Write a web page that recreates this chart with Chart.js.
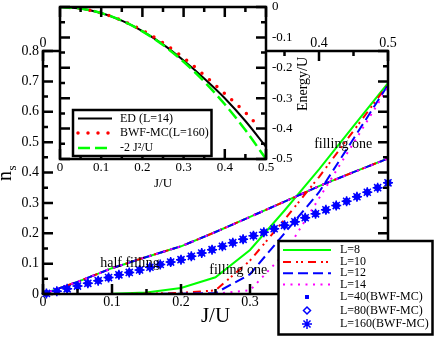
<!DOCTYPE html>
<html><head><meta charset="utf-8">
<script src="https://cdn.jsdelivr.net/npm/chart.js@4/dist/chart.umd.min.js"></script>
<style>
html,body{margin:0;padding:0;background:#fff;}
#wrap{position:relative;width:436px;height:337px;overflow:hidden;}
#wrap canvas{position:absolute;left:0;top:0;}
</style></head><body>
<div id="wrap"><canvas id="main" width="436" height="337"></canvas><canvas id="inset" width="436" height="337"></canvas></div>
<script>
// ---------------- main plot data (n_s vs J/U) ----------------
const jGrid   = [0, 0.05, 0.1, 0.15, 0.2, 0.25, 0.3, 0.35, 0.4, 0.45, 0.5];
const halfL8  = [0, 0.040, 0.085, 0.122, 0.157, 0.204, 0.254, 0.304, 0.355, 0.401, 0.446];
const halfL10 = [0, 0.040, 0.085, 0.122, 0.157, 0.204, 0.254, 0.304, 0.355, 0.401, 0.446];
const halfL12 = [0, 0.040, 0.085, 0.122, 0.157, 0.204, 0.254, 0.304, 0.355, 0.401, 0.446];
const halfL14 = [0, 0.040, 0.085, 0.122, 0.157, 0.204, 0.254, 0.304, 0.355, 0.401, 0.446];
const oneL8   = [0, 0, 0.001, 0.005, 0.020, 0.055, 0.145, 0.275, 0.410, 0.553, 0.694];
const oneL10  = [0, 0, 0, 0.001, 0.004, 0.012, 0.110, 0.245, 0.385, 0.537, 0.690];
const oneL12  = [0, 0, 0, 0, 0.001, 0.003, 0.065, 0.200, 0.335, 0.511, 0.688];
const oneL14  = [0, 0, 0, 0, 0, 0.001, 0.012, 0.133, 0.315, 0.497, 0.680];

const jMC   = [0.005,0.02,0.035,0.05,0.065,0.08,0.095,0.11,0.125,0.14,0.155,0.17,0.185,0.2,0.215,0.23,0.245,0.26,0.275,0.29,0.305,0.32,0.335,0.35,0.365,0.38,0.395,0.41,0.425,0.44,0.455,0.47,0.485,0.5];
const nL40  = [0.002,0.009,0.017,0.026,0.035,0.044,0.054,0.063,0.071,0.079,0.088,0.097,0.105,0.113,0.124,0.135,0.146,0.157,0.169,0.180,0.192,0.203,0.215,0.226,0.238,0.251,0.264,0.277,0.291,0.305,0.320,0.335,0.350,0.366];
const nL80  = [0.002,0.009,0.017,0.026,0.035,0.044,0.054,0.063,0.071,0.079,0.088,0.097,0.105,0.113,0.124,0.135,0.146,0.157,0.169,0.180,0.192,0.203,0.215,0.226,0.238,0.251,0.264,0.277,0.291,0.305,0.320,0.335,0.350,0.366];
const nL160 = [0.002,0.009,0.017,0.026,0.035,0.044,0.054,0.063,0.071,0.079,0.088,0.097,0.105,0.113,0.124,0.135,0.146,0.157,0.169,0.180,0.192,0.203,0.215,0.226,0.238,0.251,0.264,0.277,0.291,0.305,0.320,0.335,0.350,0.366];

const mainLabels = ['L=8','L=10','L=12','L=14','L=40(BWF-MC)','L=80(BWF-MC)','L=160(BWF-MC)'];
const mainXMinor = [0.05,0.15,0.25,0.35,0.45];
const mainYMinor = [0.05,0.15,0.25,0.35,0.45,0.55,0.65,0.75];
const mainNotes = [
  {text:'half filling', x:0.126, y:0.102},
  {text:'filling one',  x:0.283, y:0.079},
  {text:'filling one',  x:0.435, y:0.494}
];

// ---------------- inset data (Energy/U vs J/U) ----------------
const jIn   = [0, 0.05, 0.1, 0.15, 0.2, 0.25, 0.3, 0.35, 0.4, 0.45, 0.5];
const eED   = [0, -0.005, -0.020, -0.045, -0.079, -0.123, -0.176, -0.235, -0.300, -0.375, -0.460];
const ePert = [0, -0.005, -0.020, -0.045, -0.080, -0.125, -0.180, -0.245, -0.320, -0.405, -0.500];
const jBWF  = [0, 0.05, 0.1, 0.15, 0.2, 0.25, 0.3, 0.35, 0.4, 0.45, 0.48];
const eBWF  = [0, -0.005, -0.020, -0.044, -0.077, -0.118, -0.167, -0.224, -0.285, -0.347, -0.390];
const insetLabels = ['ED (L=14)', 'BWF-MC(L=160)', '-2 J\u00B2/U'];
const insetXMinor = [0.05,0.15,0.25,0.35,0.45];
const insetYMinor = [-0.05,-0.15,-0.25,-0.35,-0.45];

// ---------------- helpers ----------------
const serif = "'Liberation Serif','Times New Roman',Times,serif";
Chart.defaults.font.family = serif;
Chart.defaults.color = '#000';

function pts(xs, ys){ return xs.map((x,i)=>({x:x, y:ys[i]})); }
function twoBranches(xs, a, b){ return pts(xs,a).concat([{x:xs[xs.length-1], y:null}], pts(xs,b)); }
function fixSize(prop, v){ return s=>{ s[prop] = v; s.paddingTop = 0; s.paddingBottom = 0; s.paddingLeft = 0; s.paddingRight = 0; }; }

function drawTicks(ctx, a, xS, yS, xMinor, yMinor){
  ctx.beginPath();
  xS.ticks.forEach(t=>{const p=xS.getPixelForValue(t.value); ctx.moveTo(p,a.bottom); ctx.lineTo(p,a.bottom-10); ctx.moveTo(p,a.top); ctx.lineTo(p,a.top+10);});
  xMinor.forEach(v=>{const p=xS.getPixelForValue(v); ctx.moveTo(p,a.bottom); ctx.lineTo(p,a.bottom-5); ctx.moveTo(p,a.top); ctx.lineTo(p,a.top+5);});
  yS.ticks.forEach(t=>{const p=yS.getPixelForValue(t.value); ctx.moveTo(a.left,p); ctx.lineTo(a.left+10,p); ctx.moveTo(a.right,p); ctx.lineTo(a.right-10,p);});
  yMinor.forEach(v=>{const p=yS.getPixelForValue(v); ctx.moveTo(a.left,p); ctx.lineTo(a.left+5,p); ctx.moveTo(a.right,p); ctx.lineTo(a.right-5,p);});
  ctx.stroke();
  ctx.strokeRect(a.left, a.top, a.right-a.left, a.bottom-a.top);
}

function drawMarker(ctx, ds, x, y){
  ctx.fillStyle = ds.backgroundColor; ctx.strokeStyle = ds.borderColor; ctx.lineWidth = ds.borderWidth;
  if (Chart.helpers && Chart.helpers.drawPoint) {
    Chart.helpers.drawPoint(ctx, {pointStyle:ds.pointStyle, radius:ds.pointRadius, borderWidth:ds.borderWidth, rotation:0}, x, y);
  } else {
    ctx.fillRect(x-2, y-2, 4, 4);
  }
}

function drawLegend(chart, box, rows, sx0, sx1, tx, mx){
  const ctx = chart.ctx;
  ctx.save();
  ctx.fillStyle = '#fff';
  ctx.fillRect(box.l, box.t, box.r-box.l, box.b-box.t);
  ctx.lineWidth = 2.5; ctx.strokeStyle = '#000'; ctx.setLineDash([]);
  ctx.strokeRect(box.l, box.t, box.r-box.l, box.b-box.t);
  chart.data.datasets.forEach((ds,i)=>{
    const y = rows[i];
    ctx.save();
    if (ds.showLine) {
      ctx.strokeStyle = ds.borderColor; ctx.lineWidth = ds.borderWidth;
      ctx.setLineDash(ds.borderDash || []); ctx.lineCap = ds.borderCapStyle || 'butt';
      ctx.beginPath(); ctx.moveTo(sx0, y); ctx.lineTo(sx1, y); ctx.stroke();
    } else {
      drawMarker(ctx, ds, mx, y);
    }
    ctx.restore();
    ctx.fillStyle = '#000'; ctx.font = '12px ' + serif; ctx.textAlign = 'left'; ctx.textBaseline = 'middle';
    ctx.fillText(ds.label, tx, y);
  });
  ctx.restore();
}

const tickFont14 = {family:serif, size:14};
const tickFont13 = {family:serif, size:13};
const noGrid = {display:false, drawTicks:false};
const noBorder = {display:false};

// ---------------- main chart ----------------
const mainDeco = {
  id:'mainDeco',
  afterDatasetsDraw(chart){
    const ctx = chart.ctx, a = chart.chartArea, xS = chart.scales.x, yS = chart.scales.y;
    ctx.save();
    ctx.strokeStyle = '#000'; ctx.lineWidth = 2.5; ctx.setLineDash([]);
    drawTicks(ctx, a, xS, yS, mainXMinor, mainYMinor);
    ctx.fillStyle = '#000'; ctx.font = '14px ' + serif; ctx.textAlign = 'center'; ctx.textBaseline = 'middle';
    mainNotes.forEach(n=>ctx.fillText(n.text, xS.getPixelForValue(n.x), yS.getPixelForValue(n.y)));
    // y-axis title n_s
    ctx.save();
    ctx.translate(11, 181); ctx.rotate(-Math.PI/2);
    ctx.textAlign = 'left'; ctx.textBaseline = 'alphabetic';
    ctx.font = '20px ' + serif; ctx.fillText('n', 0, 0);
    const w = ctx.measureText('n').width;
    ctx.font = '13px ' + serif; ctx.fillText('s', w + 0.5, 5);
    ctx.restore();
    ctx.restore();
  },
  afterDraw(chart){
    drawLegend(chart, {l:278.5, t:241, r:432.5, b:334.5}, [250, 262, 273.3, 284.5, 297, 310.5, 324], 283, 331, 340, 307);
  }
};

new Chart(document.getElementById('main'), {
  type:'scatter',
  data:{datasets:[
    {label:mainLabels[0], data:twoBranches(jGrid, halfL8, oneL8), showLine:true, borderColor:'#00ff00', backgroundColor:'#00ff00', borderWidth:2, pointRadius:0, order:7},
    {label:mainLabels[1], data:twoBranches(jGrid, halfL10, oneL10), showLine:true, borderColor:'#ff0000', backgroundColor:'#ff0000', borderWidth:2, borderDash:[8,5,2,3,2,5], pointRadius:0, order:6},
    {label:mainLabels[2], data:twoBranches(jGrid, halfL12, oneL12), showLine:true, borderColor:'#0000ff', backgroundColor:'#0000ff', borderWidth:2, borderDash:[10,5], pointRadius:0, order:5},
    {label:mainLabels[3], data:twoBranches(jGrid, halfL14, oneL14), showLine:true, borderColor:'#ff00ff', backgroundColor:'#ff00ff', borderWidth:2, borderDash:[2,5.5], pointRadius:0, order:4},
    {label:mainLabels[4], data:pts(jMC, nL40), showLine:false, pointStyle:'rect', pointRadius:2.8, backgroundColor:'#0000ff', borderColor:'#0000ff', borderWidth:0, clip:false, order:3},
    {label:mainLabels[5], data:pts(jMC, nL80), showLine:false, pointStyle:'rectRot', pointRadius:3.5, backgroundColor:'rgba(0,0,0,0)', borderColor:'#0000ff', borderWidth:1.5, clip:false, order:2},
    {label:mainLabels[6], data:pts(jMC, nL160), showLine:false, pointStyle:'star', pointRadius:5, backgroundColor:'rgba(0,0,0,0)', borderColor:'#0000ff', borderWidth:1.5, clip:false, order:1}
  ]},
  options:{
    responsive:false, animation:false, devicePixelRatio:1, events:[],
    layout:{padding:0, autoPadding:false},
    plugins:{legend:{display:false}, tooltip:{enabled:false}},
    scales:{
      x:{type:'linear', position:'bottom', min:0, max:0.5,
         ticks:{stepSize:0.1, font:tickFont14, color:'#000', padding:0, maxRotation:0, autoSkip:false},
         grid:noGrid, border:noBorder,
         title:{display:true, text:'J/U', font:{family:serif, size:21}, color:'#000', padding:{top:0, bottom:8}},
         afterFit:fixSize('height', 43)},
      xTop:{type:'linear', position:'top', min:0, max:0.5,
         ticks:{stepSize:0.1, font:tickFont14, color:'#000', padding:-1, maxRotation:0, autoSkip:false},
         grid:noGrid, border:noBorder, afterFit:fixSize('height', 51)},
      y:{type:'linear', position:'left', min:0, max:0.8,
         ticks:{stepSize:0.1, font:tickFont14, color:'#000', padding:4, autoSkip:false},
         grid:noGrid, border:noBorder, afterFit:fixSize('width', 43)},
      yRight:{type:'linear', position:'right', min:0, max:0.8,
         ticks:{display:false}, grid:noGrid, border:noBorder, afterFit:fixSize('width', 48)}
    }
  },
  plugins:[mainDeco]
});

// ---------------- inset chart ----------------
const insetDeco = {
  id:'insetDeco',
  beforeDraw(chart){
    const ctx = chart.ctx, a = chart.chartArea;
    ctx.save(); ctx.fillStyle = '#fff'; ctx.fillRect(a.left, a.top, a.right-a.left, a.bottom-a.top); ctx.restore();
  },
  afterDatasetsDraw(chart){
    const ctx = chart.ctx, a = chart.chartArea, xS = chart.scales.x, yS = chart.scales.y;
    ctx.save();
    ctx.strokeStyle = '#000'; ctx.lineWidth = 2.5; ctx.setLineDash([]);
    drawTicks(ctx, a, xS, yS, insetXMinor, insetYMinor);
    ctx.translate(303, 84); ctx.rotate(-Math.PI/2);
    ctx.fillStyle = '#000'; ctx.font = '14px ' + serif; ctx.textAlign = 'center'; ctx.textBaseline = 'middle';
    ctx.fillText('Energy/U', 0, 0);
    ctx.restore();
  },
  afterDraw(chart){
    drawLegend(chart, {l:73, t:110, r:211.5, b:156}, [118.5, 133, 148], 78, 112, 120, 95);
  }
};

new Chart(document.getElementById('inset'), {
  type:'scatter',
  data:{datasets:[
    {label:insetLabels[0], data:pts(jIn, eED), showLine:true, borderColor:'#000000', backgroundColor:'#000000', borderWidth:2, pointRadius:0, cubicInterpolationMode:'monotone', order:3},
    {label:insetLabels[1], data:pts(jBWF, eBWF), showLine:true, borderColor:'#ff0000', backgroundColor:'#ff0000', borderWidth:3.5, borderDash:[0,10], borderCapStyle:'round', pointRadius:0, cubicInterpolationMode:'monotone', order:2},
    {label:insetLabels[2], data:pts(jIn, ePert), showLine:true, borderColor:'#00ff00', backgroundColor:'#00ff00', borderWidth:2.5, borderDash:[12,5], pointRadius:0, cubicInterpolationMode:'monotone', order:1}
  ]},
  options:{
    responsive:false, animation:false, devicePixelRatio:1, events:[],
    layout:{padding:0, autoPadding:false},
    plugins:{legend:{display:false}, tooltip:{enabled:false}},
    scales:{
      x:{type:'linear', position:'bottom', min:0, max:0.5,
         ticks:{stepSize:0.1, font:tickFont13, color:'#000', padding:1, maxRotation:0, autoSkip:false},
         grid:noGrid, border:noBorder,
         title:{display:true, text:'J/U', font:{family:serif, size:13}, color:'#000', padding:{top:0, bottom:146}},
         afterFit:fixSize('height', 178)},
      xTop:{type:'linear', position:'top', min:0, max:0.5,
         ticks:{display:false}, grid:noGrid, border:noBorder, afterFit:fixSize('height', 7)},
      y:{type:'linear', position:'right', min:-0.5, max:0,
         ticks:{stepSize:0.1, font:tickFont13, color:'#000', padding:6, autoSkip:false},
         grid:noGrid, border:noBorder, afterFit:fixSize('width', 170)},
      yLeft:{type:'linear', position:'left', min:-0.5, max:0,
         ticks:{display:false}, grid:noGrid, border:noBorder, afterFit:fixSize('width', 60)}
    }
  },
  plugins:[insetDeco]
});
</script>
</body></html>
